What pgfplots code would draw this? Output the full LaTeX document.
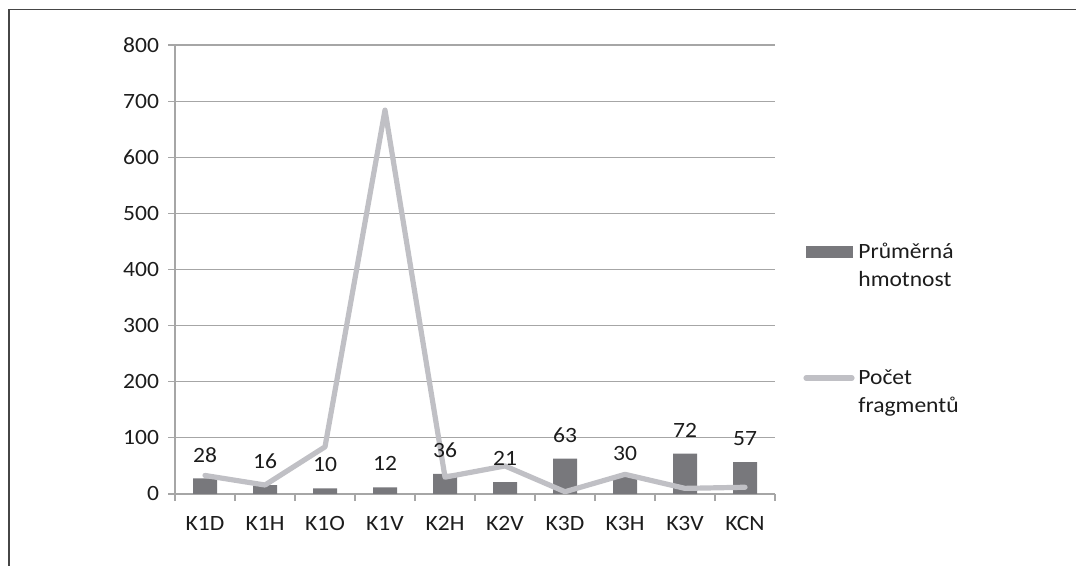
\documentclass[border=0pt]{standalone}
\usepackage{fontspec}
\setmainfont{Carlito}[FakeStretch=1.08]
\usepackage{pgfplots}
\pgfplotsset{compat=1.18}

\definecolor{barcol}{RGB}{120,120,124}
\definecolor{linecol}{RGB}{192,192,197}
\definecolor{gridcol}{RGB}{166,166,166}
\definecolor{txtcol}{RGB}{28,28,28}
\definecolor{framecol}{RGB}{70,70,70}

\newcommand{\chartfont}{\fontsize{10.9}{14}\selectfont}

\begin{document}
\begin{tikzpicture}
	\useasboundingbox (0,0) rectangle (538pt,283pt);
	% frame (only top and left edges are visible)
	\draw[framecol, line width=0.8pt] (4.5pt,0) -- (4.5pt,278.3pt) -- (538pt,278.3pt);

	\begin{axis}[%
			at={(87.5pt,36pt)},
			anchor=south west,
			width=300pt,
			height=224.5pt,
			scale only axis,
			axis x line*=bottom,
			axis y line*=left,
			axis line style={gridcol, line width=0.6pt, -},
			xmin=-0.5, xmax=9.5,
			ymin=0, ymax=800,
			xtick={-0.5,0.5,...,9.5},
			x tick label as interval,
			xticklabels={K1D,K1H,K1O,K1V,K2H,K2V,K3D,K3H,K3V,KCN},
			ytick={0,100,...,800},
			tick align=outside,
			major tick length=3.5pt,
			tick style={gridcol, line width=0.6pt},
			ymajorgrids,
			grid style={gridcol, line width=0.6pt},
			tick label style={font=\chartfont, text=txtcol},
			xticklabel style={yshift=-4pt},
			yticklabel style={xshift=-1pt},
			/pgf/number format/assume math mode=true,
			clip=false]

		\addplot [
				ybar,
				bar width=12pt,
				fill=barcol,
				draw=none
				]
			coordinates{
				(0,28) (1,16) (2,10) (3,12) (4,36) (5,21) (6,63) (7,30) (8,72) (9,57)
			};

		\addplot [
				color=linecol,
				line width=2.6pt,
				line cap=round,
				line join=round
				]
			coordinates{
				(0,33) (1,16) (2,84) (3,684) (4,30) (5,50) (6,4) (7,35) (8,10) (9,12)
			};

		% data labels on top of everything
		\addplot [
				ybar,
				bar width=12pt,
				draw=none,
				fill=none,
				nodes near coords,
				nodes near coords style={anchor=center, yshift=11.75pt, font=\chartfont, text=txtcol}
				]
			coordinates{
				(0,28) (1,16) (2,10) (3,12) (4,36) (5,21) (6,63) (7,30) (8,72) (9,57)
			};

		\end{axis}

	% legend
	\fill[barcol] (403pt,154pt) rectangle (426.5pt,160pt);
	\node[anchor=base west, inner sep=0, font=\chartfont, text=txtcol] at (429pt,153.5pt) {Průměrná};
	\node[anchor=base west, inner sep=0, font=\chartfont, text=txtcol] at (429pt,139.5pt) {hmotnost};
	\draw[linecol, line width=2.6pt, line cap=round] (403pt,94pt) -- (426pt,94pt);
	\node[anchor=base west, inner sep=0, font=\chartfont, text=txtcol] at (429pt,90.5pt) {Počet};
	\node[anchor=base west, inner sep=0, font=\chartfont, text=txtcol] at (429pt,76.5pt) {fragmentů};
\end{tikzpicture}
\end{document}
